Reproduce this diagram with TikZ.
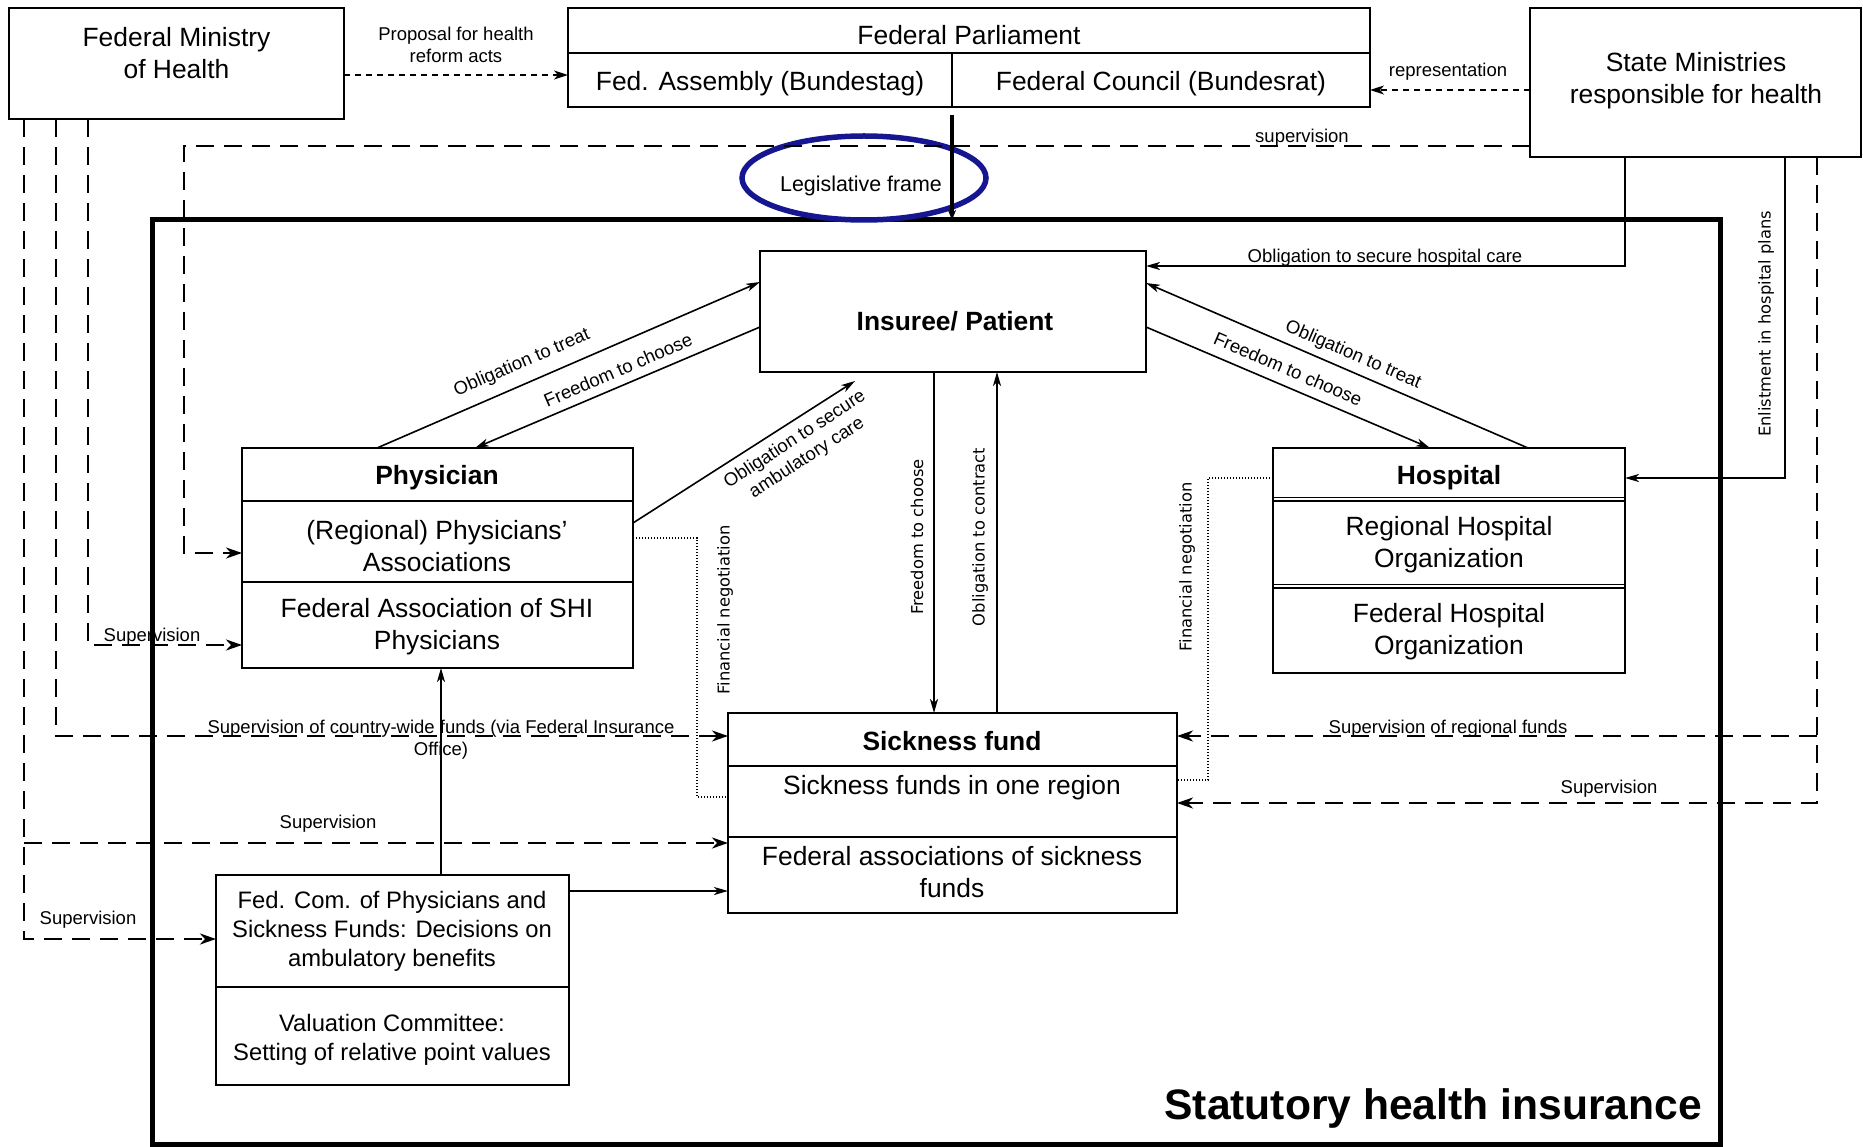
\documentclass[tikz,border=0pt]{standalone}
\usepackage{fontspec}
\setmainfont{Liberation Sans}
\newfontfamily\dejavu{DejaVu Sans}
\usetikzlibrary{arrows.meta,shapes.geometric}
\definecolor{legblue}{RGB}{22,22,145}
\tikzset{
 mybox/.style={draw, line width=2pt, rectangle, inner sep=0pt, outer sep=0pt, anchor=north west},
 fbig/.style={font=\fontsize{26.4}{32}\selectfont, align=center, inner sep=0pt},
 fbigb/.style={font=\bfseries\fontsize{26.4}{32}\selectfont, align=center, inner sep=0pt},
 fmid/.style={font=\fontsize{23.8}{29}\selectfont, align=center, inner sep=0pt},
 fsmall/.style={font=\fontsize{18.5}{22}\selectfont, align=center, inner sep=0pt},
 vlab/.style={font=\dejavu\fontsize{16.3}{19}\selectfont, rotate=90, inner sep=0pt},
 conn/.style={line width=1.6pt, -{Stealth[length=14pt,width=8pt,inset=4pt]}},
 supline/.style={line width=2.7pt, dash pattern=on 18pt off 10pt, -{Stealth[length=16pt,width=11pt,inset=5pt]}},
 thindash/.style={line width=1.6pt, dash pattern=on 6pt off 5pt, -{Stealth[length=14pt,width=9pt,inset=4pt]}},
 finline/.style={line width=1.2pt, dash pattern=on 1.3pt off 1.7pt},
 divline/.style={line width=2pt}
}
\begin{document}
\begin{tikzpicture}[x=1pt,y=-1pt]
\useasboundingbox (0,0) rectangle (1863,1147);

% frame
\node[mybox, line width=5pt, minimum width=1568pt, minimum height=924pt] (shi) at (152,220) {};
\node[font=\bfseries\fontsize{42.6}{50}\selectfont, anchor=east, inner sep=0pt] (shilab) at (1702,1108) {Statutory health insurance};

% top boxes
\node[mybox, minimum width=335pt, minimum height=111pt] (fmh) at (9,8) {};
\node[fbig] (fmht) at (176.5,53) {Federal Ministry\\of Health};

\node[mybox, minimum width=802pt, minimum height=99pt] (parl) at (568,8) {};
\draw[divline] (parl.west |- 0,53) -- (parl.east |- 0,53);
\draw[divline] (952,53) -- (parl.south -| 952,0);
\node[fbig] (parlt) at (969,35.5) {Federal Parliament};
\node[fbig] (bt) at (760,84) {Fed. Assembly (Bundestag)};
\node[fbig] (br) at (1161,84) {Federal Council (Bundesrat)};

\node[mybox, minimum width=331pt, minimum height=149pt] (sms) at (1530,8) {};
\node[fbig] (smst) at (1696,81) {State Ministries\\responsible for health};

\draw[thindash] (fmh.east |- 0,75) -- (parl.west |- 0,75);
\node[fsmall] (propl) at (456,45) {Proposal for health\\reform acts};
\draw[thindash] (sms.west |- 0,90) -- (parl.east |- 0,90);
\node[fsmall] (repl) at (1448,72) {representation};

% legislative frame
\node[ellipse, draw=legblue, line width=5.5pt, minimum width=244pt, minimum height=84pt, inner sep=0pt] (leg) at (864,178) {};
\node[font=\fontsize{21.4}{25}\selectfont, inner sep=0pt] (legt) at (861,186) {Legislative frame};
\coordinate (legtop) at (952,115);
\draw[line width=3.5pt, -{Stealth[length=10pt,width=8pt]}] (legtop) -- (shi.north -| 952,0);

% main boxes
\node[mybox, minimum width=386pt, minimum height=121pt] (ins) at (760,251) {};
\node[fbigb] (inst) at (955,321) {Insuree/ Patient};

\node[mybox, minimum width=391pt, minimum height=220pt] (phys) at (242,448) {};
\draw[divline] (phys.west |- 0,501) -- (phys.east |- 0,501);
\draw[divline] (phys.west |- 0,582) -- (phys.east |- 0,582);
\node[fbigb] (phys1) at (437,478) {Physician};
\node[fbig] (phys2) at (437,546) {(Regional) Physicians’\\Associations};
\node[fbig] (phys3) at (437,627) {Federal Association of SHI\\Physicians};

\node[mybox, minimum width=352pt, minimum height=225pt] (hosp) at (1273,448) {};
\draw[line width=1.6pt] (hosp.west |- 0,497.5) -- (hosp.east |- 0,497.5);
\draw[line width=1.6pt] (hosp.west |- 0,501) -- (hosp.east |- 0,501);
\draw[line width=1.6pt] (hosp.west |- 0,584.5) -- (hosp.east |- 0,584.5);
\draw[line width=1.6pt] (hosp.west |- 0,588) -- (hosp.east |- 0,588);
\node[fbigb] (hosp1) at (1449,478) {Hospital};
\node[fbig] (hosp2) at (1449,545) {Regional Hospital\\Organization};
\node[fbig] (hosp3) at (1449,632) {Federal Hospital\\Organization};

\node[mybox, minimum width=449pt, minimum height=200pt] (sf) at (728,713) {};
\draw[divline] (sf.west |- 0,766) -- (sf.east |- 0,766);
\draw[divline] (sf.west |- 0,837) -- (sf.east |- 0,837);
\node[fbigb] (sf1) at (952,741) {Sickness fund};
\node[fbig] (sf2) at (952,788) {Sickness funds in one region};
\node[fbig] (sf3) at (952,872) {Federal associations of sickness\\funds};

\node[mybox, minimum width=353pt, minimum height=210pt] (fc) at (216,875) {};
\draw[divline] (fc.west |- 0,987) -- (fc.east |- 0,987);
\node[fmid] (fc1t) at (392,931) {Fed. Com. of Physicians and\\Sickness Funds: Decisions on\\ambulatory benefits};
\node[fmid] (fc2t) at (392,1040) {Valuation Committee:\\Setting of relative point values};

% state ministries connectors
\draw[conn, line width=2pt] (sms.south -| 1625,0) -- (1625,266) -- (ins.east |- 0,266);
\node[fsmall] (oshc) at (1385,258) {Obligation to secure hospital care};
\draw[conn, line width=2pt] (sms.south -| 1785,0) -- (1785,478) -- (hosp.east |- 0,478);
\node[vlab] (enl) at (1766,324) {Enlistment in hospital plans};
\draw[supline] (sms.west |- 0,146) -- (184,146) -- (184,553) -- (phys.west |- 0,553);
\node[fsmall] (supl) at (1302,138) {supervision};
\draw[supline] (sms.south -| 1817,0) -- (1817,803) -- (sf.east |- 0,803);
\draw[supline] (1817,736) -- (sf.east |- 0,736);
\node[fsmall] (srf) at (1448,729) {Supervision of regional funds};
\node[fsmall] (srs) at (1609,789) {Supervision};

% insuree connectors
\draw[conn] (phys.north -| 377,0) -- (ins.west |- 0,282);
\node[fsmall, rotate=23.4] (ot1) at (522,363) {Obligation to treat};
\draw[conn] (ins.west |- 0,327) -- (phys.north -| 475,0);
\node[fsmall, rotate=23.4] (fr1) at (618,370) {Freedom to choose};
\coordinate (ambend) at (855,381);
\draw[conn] (phys.east |- 0,523) -- (ambend);
\node[fsmall, rotate=33] (amb) at (801,449) {Obligation to secure\\ambulatory care};

\draw[conn] (hosp.north -| 1528,0) -- (ins.east |- 0,283);
\node[fsmall, rotate=-23.4] (ot2) at (1353,355) {Obligation to treat};
\draw[conn] (ins.east |- 0,327) -- (hosp.north -| 1430,0);
\node[fsmall, rotate=-23.4] (fr2) at (1288,369) {Freedom to choose};

\draw[conn] (ins.south -| 934,0) -- (sf.north -| 934,0);
\node[vlab] (frv) at (917,537) {Freedom to choose};
\draw[conn] (sf.north -| 997,0) -- (ins.south -| 997,0);
\node[vlab] (occ) at (980,537) {Obligation to contract};

% financial negotiation
\draw[finline] (phys.east |- 0,538) -- (697,538) -- (697,797) -- (sf.west |- 0,797);
\node[vlab] (fn1) at (725,610) {Financial negotiation};
\draw[finline] (hosp.west |- 0,478) -- (1208,478) -- (1208,780) -- (sf.east |- 0,780);
\node[vlab] (fn2) at (1187,567) {Financial negotiation};

% fed com connectors
\draw[conn] (fc.north -| 441,0) -- (phys.south -| 441,0);
\draw[conn] (fc.east |- 0,891) -- (sf.west |- 0,891);

% federal ministry supervision
\draw[supline] (fmh.south -| 88,0) -- (88,645) -- (phys.west |- 0,645);
\node[fsmall] (s1) at (152,637) {Supervision};
\draw[supline] (fmh.south -| 56,0) -- (56,736) -- (sf.west |- 0,736);
\node[fsmall] (s2) at (441,740) {Supervision of country-wide funds (via Federal Insurance\\Office)};
\draw[supline] (fmh.south -| 24,0) -- (24,939) -- (fc.west |- 0,939);
\draw[supline] (24,843) -- (sf.west |- 0,843);
\node[fsmall] (s3) at (328,824) {Supervision};
\node[fsmall] (s4) at (88,920) {Supervision};
\end{tikzpicture}
\end{document}
